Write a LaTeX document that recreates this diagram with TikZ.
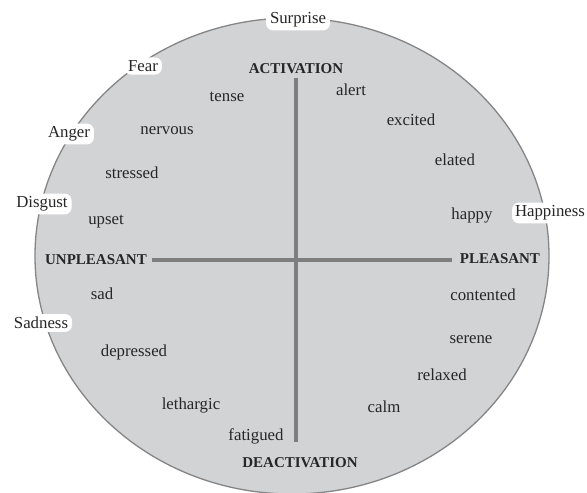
\documentclass[tikz,border=0pt]{standalone}
\usepackage{fontspec}
\setmainfont{Liberation Serif}
\definecolor{disc}{HTML}{D2D3D5}
\definecolor{rim}{HTML}{858585}
\definecolor{axis}{HTML}{7E7E7E}
\definecolor{ink}{HTML}{262626}
\begin{document}
\begin{tikzpicture}[x=1pt,y=-1pt,
  word/.style={text=ink,font=\fontsize{16.8}{18}\selectfont,inner sep=1pt},
  pole/.style={text=ink,font=\fontsize{15}{16}\selectfont\bfseries,inner sep=1pt},
  emo/.style={text=ink,font=\fontsize{16.8}{18}\selectfont,fill=white,rounded corners=7pt,inner xsep=4pt,inner ysep=3pt},
  axisline/.style={draw=axis,line width=3.5pt}]
\useasboundingbox (0,0) rectangle (587,493);
\fill[white] (0,0) rectangle (587,493);
\draw[fill=disc,draw=rim,line width=1.3pt] (292,256) ellipse [x radius=257,y radius=238];
% axes
\coordinate (vtop) at (296,78);
\coordinate (vbot) at (296,442);
\coordinate (hl) at (152,260);
\coordinate (hr) at (452,260);
\draw[axisline] (vtop) -- (vbot);
\draw[axisline] (hl) -- (hr);
% poles
\node[pole] (act) at (296,69) {ACTIVATION};
\node[pole] (deact) at (300,463) {DEACTIVATION};
\node[pole] (unpl) at (96,260) {UNPLEASANT};
\node[pole] (pl) at (500,259) {PLEASANT};
% words
\node[word] (alert) at (351,90) {alert};
\node[word] (tense) at (227,97) {tense};
\node[word] (excited) at (411,120) {excited};
\node[word] (nervous) at (167,131) {nervous};
\node[word] (elated) at (455,160) {elated};
\node[word] (stressed) at (132,173) {stressed};
\node[word] (happy) at (472,215) {happy};
\node[word] (upset) at (106,222) {upset};
\node[word] (sad) at (102,294) {sad};
\node[word] (contented) at (483,295) {contented};
\node[word] (serene) at (471,340) {serene};
\node[word] (depressed) at (134,352) {depressed};
\node[word] (relaxed) at (442,375) {relaxed};
\node[word] (lethargic) at (191,405) {lethargic};
\node[word] (calm) at (384,407) {calm};
\node[word] (fatigued) at (256,436) {fatigued};
% basic emotions
\node[emo] (surprise) at (298,20) {Surprise};
\node[emo] (fear) at (143,66) {Fear};
\node[emo] (anger) at (69,134) {Anger};
\node[emo] (disgust) at (42,204) {Disgust};
\node[emo] (sadness) at (41,323) {Sadness};
\node[emo,inner xsep=3pt] (happiness) at (550,213) {Happiness};
\end{tikzpicture}
\end{document}
